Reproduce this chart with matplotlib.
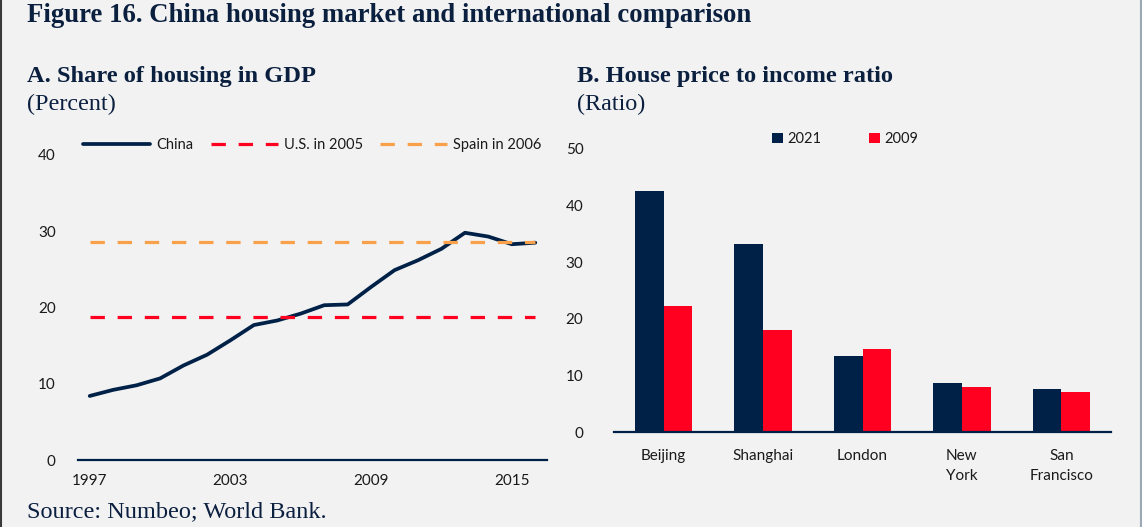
import matplotlib
matplotlib.use('Agg')
import matplotlib.pyplot as plt
from matplotlib.lines import Line2D

# panel A: share of housing in GDP (percent)
years = list(range(1997, 2017))
china = [8.4, 9.2, 9.8, 10.7, 12.4, 13.8, 15.7, 17.7, 18.3, 19.2,
         20.3, 20.4, 22.7, 24.9, 26.2, 27.7, 29.8, 29.3, 28.3, 28.5]
us_2005 = 18.8
spain_2006 = 28.6
a_ticks = [1997, 2003, 2009, 2015]

# panel B: house price to income ratio
cities = ['Beijing', 'Shanghai', 'London', 'New\nYork', 'San\nFrancisco']
ratio_2021 = [42.5, 33.3, 13.4, 8.7, 7.6]
ratio_2009 = [22.3, 18.0, 14.6, 7.9, 7.0]

BG = '#F2F2F2'
NAVY = '#002147'
RED = '#FF0020'
ORANGE = '#F9A04B'
TXT = '#1A1A1A'
TITLE = '#0B1F3F'

W, H = 1142, 527
fig = plt.figure(figsize=(W / 100, H / 100), dpi=100, facecolor=BG)


def box(x0, x1, ytop, ybot):
    return [x0 / W, 1 - ybot / H, (x1 - x0) / W, (ybot - ytop) / H]


serif = 'Liberation Serif'
sans = 'Lato'

fig.text(27 / W, 1 - 15 / H, 'Figure 16. China housing market and international comparison',
         family=serif, weight='bold', size=19.3, color=TITLE, va='center')
fig.text(27 / W, 1 - 76 / H, 'A. Share of housing in GDP', family=serif, weight='bold',
         size=17.6, color=TITLE, va='center')
fig.text(27 / W, 1 - 104 / H, '(Percent)', family=serif, size=17.4, color=TITLE, va='center')
fig.text(577 / W, 1 - 76 / H, 'B. House price to income ratio', family=serif, weight='bold',
         size=17.6, color=TITLE, va='center')
fig.text(577 / W, 1 - 104 / H, '(Ratio)', family=serif, size=17.4, color=TITLE, va='center')
fig.text(27 / W, 1 - 512 / H, 'Source: Numbeo; World Bank.', family=serif, size=17.5,
         color=TITLE, va='center')

# frame edges
fig.add_artist(Line2D([0.5 / W, 0.5 / W], [0, 1], color='#3a3a3a', lw=1.5))
fig.add_artist(Line2D([1 - 1 / W, 1 - 1 / W], [0, 1], color='#9AA8B8', lw=1.5))

# ---- panel A
ax1 = fig.add_axes(box(78, 547, 155, 460))
ax1.set_facecolor(BG)
ax1.plot(years, china, color=NAVY, lw=2.7, solid_joinstyle='round',
         solid_capstyle='round', label='China')
ax1.plot([years[0], years[-1]], [us_2005, us_2005], color=RED, lw=2.3,
         dashes=(4.5, 4), label='U.S. in 2005')
ax1.plot([years[0], years[-1]], [spain_2006, spain_2006], color=ORANGE, lw=2.3,
         dashes=(4.5, 4), label='Spain in 2006')
ax1.set_xlim(1996.5, 2016.5)
ax1.set_ylim(0, 40)
ax1.set_yticks([0, 10, 20, 30, 40])
ax1.set_xticks(a_ticks)
for s in ['top', 'right', 'left']:
    ax1.spines[s].set_visible(False)
ax1.spines['bottom'].set_color(NAVY)
ax1.spines['bottom'].set_linewidth(1.6)
ax1.tick_params(length=0, labelsize=11, labelcolor=TXT, pad=10)
ax1.tick_params(axis='y', pad=16)
for lab in ax1.get_xticklabels() + ax1.get_yticklabels():
    lab.set_family(sans)
leg1 = ax1.legend(loc='center', bbox_to_anchor=(0.5, 1 + 10 / 305), ncol=3, frameon=False,
                  handlelength=4.6, columnspacing=1.2, handletextpad=0.4,
                  prop={'family': sans, 'size': 10.5})
for t in leg1.get_texts():
    t.set_color(TXT)

# ---- panel B
ax2 = fig.add_axes(box(614, 1111, 149, 432))
ax2.set_facecolor(BG)
xs = range(len(cities))
bw = 0.288
ax2.bar([x - bw / 2 for x in xs], ratio_2021, width=bw, color=NAVY, label='2021')
ax2.bar([x + bw / 2 for x in xs], ratio_2009, width=bw, color=RED, label='2009')
ax2.set_xlim(-0.5, len(cities) - 0.5)
ax2.set_ylim(0, 50)
ax2.set_yticks([0, 10, 20, 30, 40, 50])
ax2.set_xticks(list(xs))
ax2.set_xticklabels(cities, linespacing=1.6, va='top')
for s in ['top', 'right', 'left']:
    ax2.spines[s].set_visible(False)
ax2.spines['bottom'].set_color(NAVY)
ax2.spines['bottom'].set_linewidth(1.6)
ax2.tick_params(length=0, labelsize=11, labelcolor=TXT, pad=12)
ax2.tick_params(axis='y', pad=22)
for lab in ax2.get_xticklabels() + ax2.get_yticklabels():
    lab.set_family(sans)
leg2 = ax2.legend(loc='center', bbox_to_anchor=((845 - 614) / 497, 1 + 10 / 283), ncol=2,
                  frameon=False, handlelength=0.75, handleheight=0.75, columnspacing=3.3,
                  handletextpad=0.3, prop={'family': sans, 'size': 10.5})
for t in leg2.get_texts():
    t.set_color(TXT)

fig.savefig('out.png', dpi=100, facecolor=BG)
